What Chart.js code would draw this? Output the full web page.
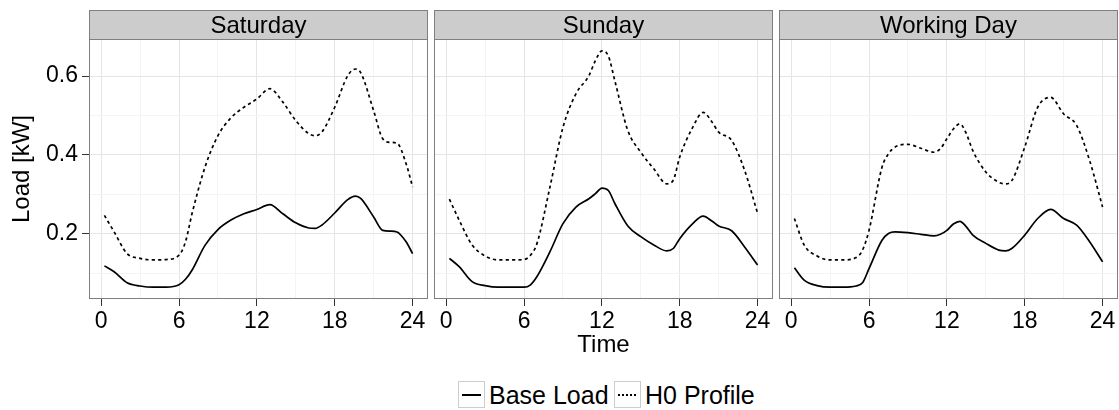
<!DOCTYPE html>
<html>
<head>
<meta charset="utf-8">
<script src="https://cdn.jsdelivr.net/npm/chart.js@4.4.1/dist/chart.umd.min.js"></script>
<style>
  html, body { margin: 0; padding: 0; background: #fff; }
  body { width: 1119px; height: 410px; overflow: hidden; position: relative;
         font-family: "Liberation Sans", Arial, Helvetica, sans-serif; }
  .panel { position: absolute; top: 0; height: 360px; }
  .lg { position: absolute; font-size: 25px; color: #000; line-height: 26px; white-space: nowrap; }
  .key { position: absolute; width: 27px; height: 27px; box-sizing: border-box;
         border: 1px solid #cccccc; background: #fff; }
  .key .ln { position: absolute; left: 3px; right: 3px; top: 12px; height: 2px; }
  .solid { background: #000; }
  .dotted { background: repeating-linear-gradient(to right, #000 0 2px, transparent 2px 4px); }
</style>
</head>
<body>
<div class="panel" style="left:0px;width:430px;"><canvas id="c0"></canvas></div>
<div class="panel" style="left:432px;width:344px;"><canvas id="c1"></canvas></div>
<div class="panel" style="left:777px;width:342px;"><canvas id="c2"></canvas></div>

<div class="key" style="left:458px;top:381px;"><div class="ln solid"></div></div>
<div class="lg" style="left:489px;top:382px;">Base Load</div>
<div class="key" style="left:614px;top:381px;"><div class="ln dotted"></div></div>
<div class="lg" style="left:645px;top:382px;">H0 Profile</div>

<script>
// ---------------- data ----------------
const panelNames = ["Saturday", "Sunday", "Working Day"];
const seriesNames = ["Base Load", "H0 Profile"];

const satTime = [0.25,1,2,3,4,5,6,6.5,7,8,9,10,11,12,13,14,15,16,16.5,17,18,19,19.6,20,21,21.7,22.3,22.8,23.5,24];
const satBase = [0.119,0.104,0.076,0.068,0.065,0.065,0.071,0.085,0.108,0.171,0.211,0.235,0.251,0.262,0.274,0.251,0.228,0.215,0.214,0.222,0.253,0.287,0.296,0.290,0.243,0.209,0.207,0.205,0.180,0.150];
const satH0   = [0.247,0.205,0.150,0.138,0.134,0.135,0.146,0.180,0.251,0.369,0.449,0.494,0.521,0.542,0.568,0.534,0.487,0.454,0.449,0.458,0.521,0.601,0.618,0.609,0.512,0.441,0.432,0.430,0.378,0.319];

const sunTime = [0.25,1,2,3,4,5,6,6.5,7,8,9,10,11,11.5,12,12.5,13,14,15,16,17,17.5,18,19,19.8,20.5,21,22,23,24];
const sunBase = [0.138,0.117,0.079,0.069,0.065,0.065,0.065,0.071,0.092,0.155,0.226,0.268,0.289,0.302,0.316,0.310,0.277,0.220,0.193,0.172,0.157,0.163,0.188,0.226,0.245,0.232,0.220,0.208,0.167,0.121];
const sunH0   = [0.288,0.235,0.172,0.144,0.134,0.134,0.135,0.146,0.176,0.319,0.470,0.555,0.601,0.639,0.664,0.651,0.588,0.462,0.407,0.365,0.327,0.336,0.395,0.470,0.508,0.483,0.458,0.437,0.361,0.252];

const wrkTime = [0.25,1,2,3,4,5,5.5,6,7,7.5,8,9,10,11,11.5,12,12.5,13,13.5,14,15,16,16.5,17,18,19,20,21,22,23,24];
const wrkBase = [0.114,0.083,0.069,0.065,0.065,0.068,0.076,0.112,0.184,0.201,0.205,0.203,0.199,0.195,0.199,0.209,0.225,0.232,0.218,0.197,0.176,0.159,0.157,0.163,0.197,0.239,0.262,0.239,0.222,0.180,0.129];
const wrkH0   = [0.239,0.172,0.144,0.134,0.134,0.140,0.159,0.209,0.369,0.403,0.420,0.427,0.417,0.407,0.416,0.441,0.466,0.479,0.454,0.411,0.357,0.331,0.327,0.335,0.420,0.521,0.546,0.504,0.475,0.386,0.268];

const xTicks = [0,3,6,9,12,15,18,21,24];      // major every 6, minor between
const yTicks = [0.1,0.2,0.3,0.4,0.5,0.6];      // major 0.2/0.4/0.6, minor between
const xRange = [-0.9375, 25.1875];
const yRange = [0.035, 0.694];

// ---------------- chart setup ----------------
const FONT = '"Liberation Sans", Arial, Helvetica, sans-serif';
const GRID_MAJOR = '#e5e5e5', GRID_MINOR = '#f4f4f4', FRAME = '#7f7f7f';
const isMajorX = v => Math.abs(v % 6) < 1e-9;
const isMajorY = v => Math.abs((Math.round(v * 10)) % 2) === 0;

const framePlugin = {
  id: 'frame',
  afterDraw(chart) {
    const { ctx, chartArea: a } = chart;
    const name = chart.options.plugins.frame.name;
    ctx.save();
    const sTop = 10;
    ctx.fillStyle = '#cccccc';
    ctx.fillRect(a.left, sTop, a.right - a.left, a.top - sTop);
    ctx.strokeStyle = FRAME;
    ctx.lineWidth = 1;
    ctx.strokeRect(a.left + 0.5, sTop + 0.5, a.right - a.left - 1, a.top - sTop);
    ctx.fillStyle = '#000';
    ctx.font = '24px ' + FONT;
    ctx.textAlign = 'center';
    ctx.textBaseline = 'alphabetic';
    ctx.fillText(name, (a.left + a.right) / 2, 33);
    ctx.strokeRect(a.left + 0.5, a.top + 0.5, a.right - a.left - 1, a.bottom - a.top - 1);
    ctx.restore();
  }
};

function makeChart(id, idx, time, base, h0, padL, padR) {
  const first = idx === 0;
  const toXY = (t, v) => t.map((x, i) => ({ x, y: v[i] }));
  return new Chart(document.getElementById(id), {
    type: 'line',
    data: {
      datasets: [
        { label: seriesNames[0], data: toXY(time, base), borderColor: '#000', borderWidth: 1.7,
          pointRadius: 0, fill: false, cubicInterpolationMode: 'monotone' },
        { label: seriesNames[1], data: toXY(time, h0), borderColor: '#000', borderWidth: 1.7,
          borderDash: [3.2, 3.2], pointRadius: 0, fill: false, cubicInterpolationMode: 'monotone' }
      ]
    },
    options: {
      responsive: true, maintainAspectRatio: false, animation: false,
      layout: { padding: { top: 39, left: padL, right: padR, bottom: 0 } },
      plugins: { legend: { display: false }, tooltip: { enabled: false }, frame: { name: panelNames[idx] } },
      scales: {
        x: {
          type: 'linear', min: xRange[0], max: xRange[1],
          afterBuildTicks: s => { s.ticks = xTicks.map(v => ({ value: v })); },
          afterFit: s => { s.height = 61; },
          border: { display: false },
          grid: {
            color: c => isMajorX(c.tick.value) ? GRID_MAJOR : GRID_MINOR,
            tickColor: c => isMajorX(c.tick.value) ? '#333333' : 'rgba(0,0,0,0)',
            tickLength: 7, lineWidth: 1
          },
          ticks: {
            autoSkip: false, maxRotation: 0, padding: 2, color: '#000',
            font: { family: FONT, size: 23 },
            callback: v => isMajorX(v) ? String(v) : ''
          },
          title: { display: idx === 1, text: 'Time', color: '#000',
                   font: { family: FONT, size: 24 }, padding: { top: 0, bottom: 0.6 } }
        },
        y: {
          type: 'linear', min: yRange[0], max: yRange[1],
          afterBuildTicks: s => { s.ticks = yTicks.map(v => ({ value: v })); },
          afterFit: s => { s.width = first ? 89 : 0; },
          border: { display: false },
          grid: {
            color: c => isMajorY(c.tick.value) ? GRID_MAJOR : GRID_MINOR,
            tickColor: c => isMajorY(c.tick.value) ? '#333333' : 'rgba(0,0,0,0)',
            tickLength: 7, lineWidth: 1, drawTicks: first
          },
          ticks: {
            display: first, padding: 4, color: '#000',
            font: { family: FONT, size: 23 },
            callback: v => isMajorY(v) ? v.toFixed(1) : ''
          },
          title: { display: first, text: 'Load [kW]', color: '#000',
                   font: { family: FONT, size: 24 }, padding: { top: 8.3, bottom: 0 } }
        }
      }
    },
    plugins: [framePlugin]
  });
}

makeChart('c0', 0, satTime, satBase, satH0, 0, 2);
makeChart('c1', 1, sunTime, sunBase, sunH0, 2, 3);
makeChart('c2', 2, wrkTime, wrkBase, wrkH0, 2, 1);
</script>
</body>
</html>
